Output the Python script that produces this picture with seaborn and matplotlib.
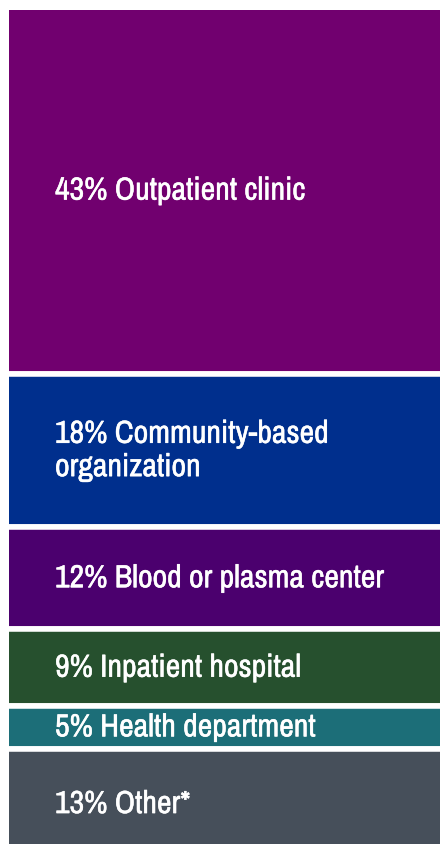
import matplotlib
matplotlib.use("Agg")
import matplotlib.pyplot as plt
import matplotlib.patheffects as pe
import seaborn as sns
import pandas as pd

# share of testing sites, top to bottom
categories = ["Outpatient clinic", "Community-based\norganization", "Blood or plasma center",
              "Inpatient hospital", "Health department", "Other*"]
shares = [43, 18, 12, 9, 5, 13]
colors = ["#71006F", "#002F8D", "#4B006E", "#26502E", "#1C6E78", "#464F5A"]

df = pd.DataFrame({"site": categories, "share": shares, "color": colors})
df["start"] = df["share"].cumsum() - df["share"]

sns.set_theme(style="white")
plt.rcParams["font.family"] = ["Archivo Narrow", "Liberation Sans Narrow", "DejaVu Sans"]

W, H = 440, 844
fig = plt.figure(figsize=(W / 100, H / 100), dpi=100)
fig.patch.set_facecolor("white")

px_per_unit = 8.52
top_pad = 0.3
ax_h = (100 - top_pad) * px_per_unit
ax = fig.add_axes([9 / W, 1 - (10 + ax_h) / H, 1.0, ax_h / H])

for _, row in df.iterrows():
    sns.barplot(x=[0], y=[row["share"]], bottom=row["start"], color=row["color"],
                width=1.0, edgecolor="white", linewidth=4.0, saturation=1, ax=ax,
                native_scale=True)
    ax.text(46 / W, row["start"] + row["share"] / 2, f"{row['share']}% {row['site']}",
            transform=ax.get_yaxis_transform(), color="white", fontsize=23,
            va="center", ha="left", linespacing=1.23,
            path_effects=[pe.withStroke(linewidth=0.35, foreground="white")])

ax.set_xlim(-0.45, 0.45)
ax.set_ylim(100, top_pad)
ax.axis("off")

fig.savefig("out.png", dpi=100, facecolor="white")
